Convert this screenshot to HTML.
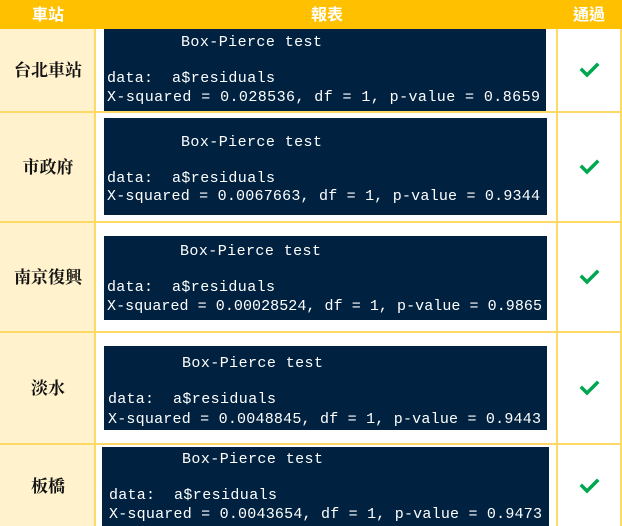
<!DOCTYPE html>
<html><head><meta charset="utf-8"><style>
html,body{margin:0;padding:0;background:#fff;width:622px;height:526px;overflow:hidden}
svg{display:block}
.m{font-family:"Liberation Mono",monospace;font-size:15px;fill:#fff}
.c{font-family:"Liberation Serif","Noto Serif CJK SC",serif;font-size:17px;fill:#111;font-weight:bold}
.h{font-family:"Liberation Sans","Noto Sans CJK TC",sans-serif;font-size:16px;fill:#fff;font-weight:bold}
</style></head><body>
<svg width="622" height="526" xmlns="http://www.w3.org/2000/svg">
<rect x="0" y="0" width="622" height="29" fill="#FFC000"/>
<text class="h" x="48" y="20" text-anchor="middle">車站</text>
<text class="h" x="327" y="20" text-anchor="middle">報表</text>
<text class="h" x="589" y="20" text-anchor="middle">通過</text>
<rect x="0" y="29" width="95" height="497" fill="#FFF2CC"/>
<g stroke="#FFD966" stroke-width="2">
<line x1="95" y1="29" x2="95" y2="526"/>
<line x1="557" y1="29" x2="557" y2="526"/>
<line x1="0" y1="112" x2="622" y2="112"/>
<line x1="0" y1="222" x2="622" y2="222"/>
<line x1="0" y1="332" x2="622" y2="332"/>
<line x1="0" y1="444" x2="622" y2="444"/>
<line x1="621" y1="29" x2="621" y2="526"/>
</g>
<g fill="#002240">
<rect x="104" y="29" width="442" height="82"/>
<rect x="104" y="118" width="443" height="97"/>
<rect x="104" y="236" width="443" height="84"/>
<rect x="104" y="346" width="443" height="84"/>
<rect x="102" y="447" width="447" height="79"/>
</g>
<g class="m">
<text x="181" y="46" textLength="141">Box-Pierce test</text>
<text x="107" y="82" textLength="46">data:</text><text x="172" y="82" textLength="103">a$residuals</text>
<text x="107" y="101" textLength="433">X-squared = 0.028536, df = 1, p-value = 0.8659</text>
<text x="181" y="146" textLength="141">Box-Pierce test</text>
<text x="107" y="182" textLength="46">data:</text><text x="172" y="182" textLength="103">a$residuals</text>
<text x="107" y="200" textLength="433">X-squared = 0.0067663, df = 1, p-value = 0.9344</text>
<text x="180" y="255" textLength="141">Box-Pierce test</text>
<text x="107" y="291" textLength="46">data:</text><text x="172" y="291" textLength="103">a$residuals</text>
<text x="107" y="310" textLength="435">X-squared = 0.00028524, df = 1, p-value = 0.9865</text>
<text x="182" y="367" textLength="141">Box-Pierce test</text>
<text x="108" y="403" textLength="46">data:</text><text x="173" y="403" textLength="103">a$residuals</text>
<text x="108" y="423" textLength="433">X-squared = 0.0048845, df = 1, p-value = 0.9443</text>
<text x="182" y="463" textLength="141">Box-Pierce test</text>
<text x="109" y="499" textLength="46">data:</text><text x="174" y="499" textLength="103">a$residuals</text>
<text x="109" y="518" textLength="433">X-squared = 0.0043654, df = 1, p-value = 0.9473</text>
</g>
<g class="c" text-anchor="middle">
<text x="48" y="76">台北車站</text>
<text x="48" y="173">市政府</text>
<text x="48" y="283">南京復興</text>
<text x="48" y="394">淡水</text>
<text x="48" y="492">板橋</text>
</g>
<g fill="none" stroke="#00A650" stroke-width="3.5" stroke-linecap="square">
<polyline points="582,70 587,75 597,65"/>
<polyline points="582,167 587,172 597,162"/>
<polyline points="582,277 587,282 597,272"/>
<polyline points="582,388 587,393 597,383"/>
<polyline points="582,486 587,491 597,481"/>
</g>
</svg>
</body></html>
